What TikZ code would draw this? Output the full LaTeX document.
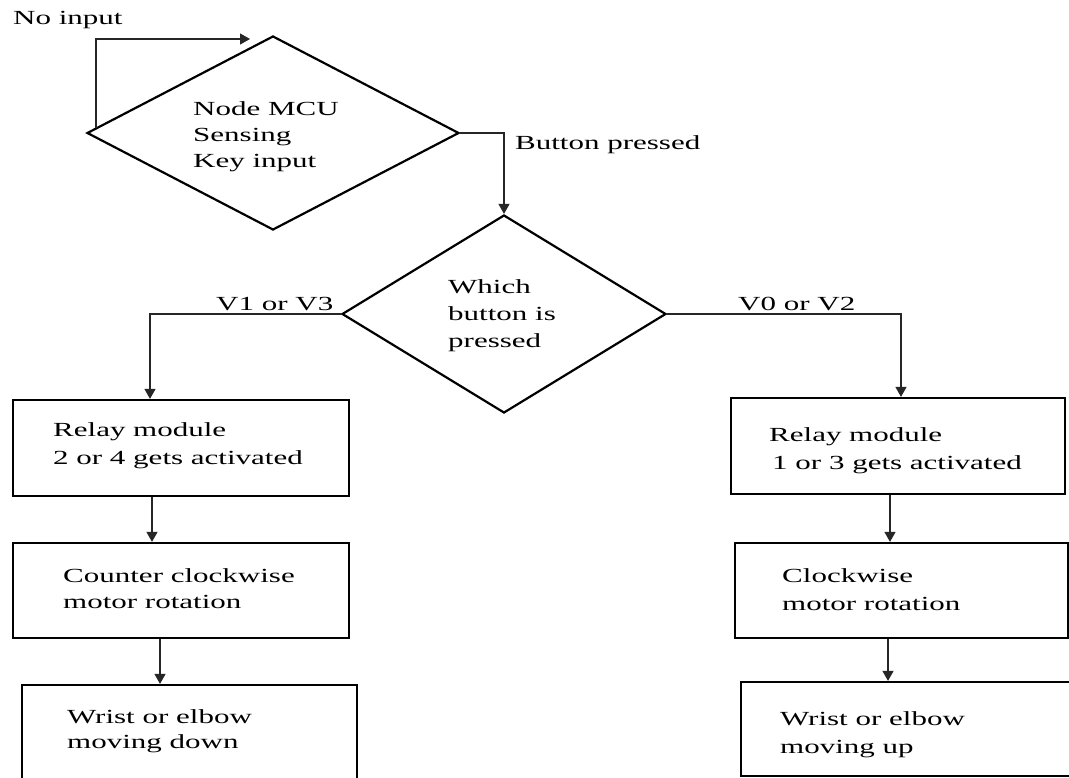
\documentclass[tikz,border=0pt]{standalone}
\usepackage{fontspec}
\setmainfont{Liberation Serif}[FakeStretch=1.55]
\usetikzlibrary{shapes.geometric,arrows.meta,calc}
\begin{document}
\begin{tikzpicture}[x=1pt,y=-1pt,
  every node/.style={font=\fontsize{20}{27}\selectfont},
  dia/.style={diamond,draw,line width=2.2pt,inner sep=0pt},
  box/.style={rectangle,draw,line width=2.2pt,inner sep=0pt},
  txt/.style={anchor=base west,inner sep=0pt,align=left},
  conn/.style={draw=black!85,line width=1.2pt,-{Triangle[length=10pt,width=11pt]}}]
\useasboundingbox (0,0) rectangle (1069,778);
\clip (0,0) rectangle (1069,778);
% shapes
\node[dia,minimum width=372pt,minimum height=194pt] (d1) at (273,133) {};
\node[dia,minimum width=324pt,minimum height=198pt] (d2) at (504,314) {};
\node[box,minimum width=336pt,minimum height=96pt] (L1) at (181,448) {};
\node[box,minimum width=336pt,minimum height=95pt] (L2) at (181,590.5) {};
\node[box,minimum width=335pt,minimum height=130pt] (L3) at (189.5,750) {};
\node[box,minimum width=334pt,minimum height=96pt] (R1) at (898,446) {};
\node[box,minimum width=333pt,minimum height=95pt] (R2) at (901.5,590.5) {};
\node[box,minimum width=331pt,minimum height=94pt] (R3) at (906.5,729) {};
% texts (anchor = baseline of the last line)
\node[txt] (tno) at (13,25) {No input};
\node[txt,font=\fontsize{20}{26}\selectfont] (t1) at (193,168) {Node MCU\\Sensing\\Key input};
\node[txt] (tbp) at (515,150) {Button pressed};
\node[txt] (t2) at (448,347) {Which\\button is\\pressed};
\node[txt] (tv13) at (216,311) {V1 or V3};
\node[txt] (tv02) at (738,311) {V0 or V2};
\node[txt,font=\fontsize{20}{28}\selectfont] (tl1) at (53,464) {Relay module\\2 or 4 gets activated};
\node[txt,font=\fontsize{20}{26}\selectfont] (tl2) at (63,608) {Counter clockwise\\motor rotation};
\node[txt,font=\fontsize{20}{25}\selectfont] (tl3) at (67,748) {Wrist or elbow\\moving down};
\node[txt,font=\fontsize{20}{28}\selectfont] (tr1) at (769,469) {Relay module\\\hspace*{3pt}1 or 3 gets activated};
\node[txt,font=\fontsize{20}{28}\selectfont] (tr2) at (782,610) {Clockwise\\motor rotation};
\node[txt,font=\fontsize{20}{28}\selectfont] (tr3) at (780,753) {Wrist or elbow\\moving up};
% connector coordinates
\coordinate (ls) at ($(d1.west)!0.054!(d1.north)$);
\coordinate (le) at (250,39);
\coordinate (a1) at (150,0);
\coordinate (a2) at (901,0);
\coordinate (a3) at (152,0);
\coordinate (a4) at (160,0);
\coordinate (a5) at (890,0);
\coordinate (a6) at (888,0);
% connectors
\draw[conn] (ls) |- (le);
\draw[conn] (d1.east) -| (d2.north);
\draw[conn] (d2.west) -| (L1.north -| a1);
\draw[conn] (d2.east) -| (R1.north -| a2);
\draw[conn] (L1.south -| a3) -- (L2.north -| a3);
\draw[conn] (L2.south -| a4) -- (L3.north -| a4);
\draw[conn] (R1.south -| a5) -- (R2.north -| a5);
\draw[conn] (R2.south -| a6) -- (R3.north -| a6);
\end{tikzpicture}
\end{document}
